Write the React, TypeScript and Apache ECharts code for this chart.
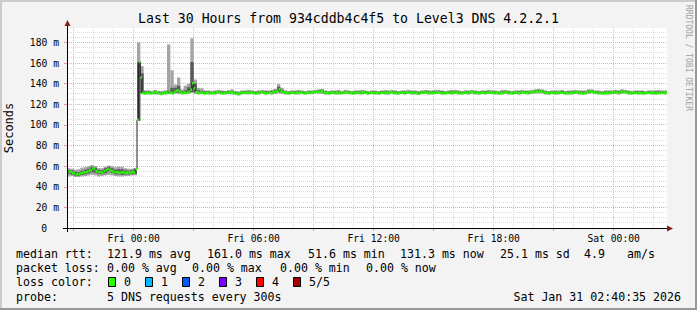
import React, { useEffect, useRef } from 'react';
import * as echarts from 'echarts';

const TITLE = 'Last 30 Hours from 934cddb4c4f5 to Level3 DNS 4.2.2.1';
const Y_NAME = 'Seconds';
const WATERMARK = 'RRDTOOL / TOBI OETIKER';
const SPAN_MIN = 1800; // Thu 20:40 -> Sat 02:40, minutes
const MEDIAN_STEP = 5;
const SMOKE_STEP = 10;
const Y_MAX = 194;

// median rtt (ms), one value per 5 minutes, starting Thu 20:40
const MEDIAN = [
  55, 54, 54.5, 53.5, 53, 51.6, 52.5, 52, 53, 53.5, 54, 54,
  55, 55.5, 56, 58, 57, 55, 54.5, 54, 54, 53.5, 55, 56,
  57.5, 56.5, 55.5, 55, 54, 54, 54, 53.5, 53.5, 54, 54, 53.5,
  53.5, 54, 53.5, 54, 54, 57, 105, 161, 146, 131, 130.5, 131,
  131.5, 131, 130.5, 131, 131.5, 132, 131, 130.5, 130, 130.5, 131, 131.5,
  131, 131.5, 131, 130.5, 132, 133, 133.5, 132.5, 131.5, 131, 131.5, 131,
  131.5, 132, 134, 140.5, 135.5, 132, 131.5, 131, 131.5, 131, 130.5, 131,
  131.5, 131, 130.5, 131, 131, 131.5, 132, 131.5, 131, 130.5, 131, 131.5,
  131, 131.5, 132, 131.5, 131, 130.5, 130, 130.5, 131, 131.5, 131, 131,
  131.5, 132, 131.5, 131, 131, 130.5, 131, 131.5, 132, 131.5, 131, 130.5,
  131, 131.5, 131, 131.5, 132, 132.5, 133, 134.5, 133, 132, 131.5, 131,
  131, 130.5, 131, 131.5, 131, 131, 131.5, 132, 131.5, 131, 130.5, 131,
  131.5, 131, 131, 131.5, 132, 132, 132.5, 132, 133, 132.5, 131.5, 131,
  131, 130.5, 131, 131.5, 131, 131, 131.5, 131, 130.5, 131, 131.5, 132,
  131.5, 131, 131, 130.5, 131, 131.5, 131, 131, 131.5, 132, 131.5, 131,
  130.5, 131, 131.5, 131, 131, 131.5, 131, 130.5, 131, 131, 131.5, 131,
  131, 131.5, 132, 131.5, 131, 131, 130.5, 131, 131.5, 131, 131, 131.5,
  132, 131.5, 131, 131, 131.5, 131, 130.5, 130.5, 131, 131.5, 132, 131.5,
  131, 131, 131.5, 131, 131, 131.5, 132, 131.5, 131, 130.5, 131, 131,
  131.5, 131, 131, 131.5, 132, 131.5, 131, 131, 130.5, 131, 131.5, 131,
  131, 131.5, 132, 132, 131.5, 131, 131, 130.5, 131, 131.5, 131, 131,
  131.5, 132, 131.5, 131, 131, 131.5, 131, 130.5, 131, 131, 131.5, 132,
  131.5, 131, 131, 130.5, 131, 131.5, 131, 131, 131.5, 132, 131.5, 131,
  131, 131.5, 132, 132, 132.5, 132, 133, 132.5, 133, 132, 131.5, 131,
  131, 130.5, 131, 131.5, 131, 131, 131.5, 132, 131.5, 131, 131, 130.5,
  131, 131.5, 131, 131, 131.5, 132, 131.5, 131, 131, 130.5, 131, 131.5,
  132, 132.5, 132.5, 132, 131.5, 131, 131, 131.5, 131, 130.5, 131, 131,
  131.5, 131, 131, 131.5, 132, 131.5, 131, 131, 132, 132.5, 132, 131.5,
  131, 131, 130.5, 131, 131.5, 131, 131, 131.5, 131, 130.5, 131, 131,
  131.5, 131, 131, 131.5, 131, 130.5, 131, 131.5, 131, 131, 131.5, 131.3,
];

// smoke: sorted ping values per 10 minutes (p1 = lowest ... p5 = highest)
const P1 = [
  50, 50.5, 49.5, 49.5, 50, 50.5,
  51, 51.5, 51, 50, 50.5, 51,
  51.5, 51, 50.5, 50, 50, 50.5,
  50.5, 51, 51, 104, 130, 129.5,
  129.5, 130, 129.5, 129.5, 130, 129.5,
  130, 130, 130.5, 130, 129.5, 130,
  130, 131, 130, 129.5, 130, 129.5,
  129.5, 130, 129.5, 130, 129.5, 129.5,
  130, 129.5, 129, 128.5, 129.5, 130,
  129.5, 130, 129.5, 129.5, 130, 129.5,
  130, 129.5, 130, 130.5, 130, 129.5,
  129.5, 130, 129.5, 129.5, 130, 129.5,
  130, 130, 130.5, 130.5, 130, 129.5,
  129.5, 130, 129.5, 129.5, 130, 130,
  130, 129.5, 129.5, 130, 129.5, 130,
  129.5, 130, 129.5, 129.5, 130, 129.5,
  129.5, 130, 129.5, 129.5, 130, 129.5,
  130, 129.5, 129.5, 129, 130, 130,
  129.5, 129.5, 130, 130, 129.5, 129.5,
  130, 129.5, 130, 129.5, 129.5, 130,
  129.5, 130, 129.5, 129.5, 130, 129.5,
  130, 130, 129.5, 129.5, 129.5, 130,
  129.5, 129.5, 130, 129.5, 130, 130,
  129.5, 130, 130.5, 130.5, 130.5, 129.5,
  129.5, 130, 129.5, 129.5, 130, 129.5,
  129.5, 129.5, 130, 129.5, 129.5, 129.5,
  130, 130.5, 130, 129.5, 129.5, 129.5,
  129.5, 130, 130, 129.5, 130, 130.5,
  129.5, 129.5, 130, 129.5, 129.5, 129.5,
  130, 129.5, 129.5, 129.5, 130, 129.5,
];
const P2 = [
  52.5, 52, 50.5, 50.5, 51.5, 52,
  53, 54, 53.5, 52.5, 52, 53,
  55, 53.5, 52, 52, 51.5, 52,
  52, 52, 52.5, 104, 131, 130.5,
  130.5, 130, 130.5, 130, 129.5, 130.5,
  130.5, 130, 131, 131.5, 130.5, 130.5,
  131, 132, 131.5, 130.5, 130.5, 130,
  130.5, 130, 130.5, 131, 130, 130.5,
  130.5, 131, 130, 129.5, 130.5, 130.5,
  131, 130.5, 130, 130.5, 131, 130,
  130.5, 130.5, 131.5, 132, 131.5, 130.5,
  130, 130.5, 130.5, 131, 130.5, 130,
  130.5, 130.5, 131, 131.5, 132, 130.5,
  130, 130.5, 130.5, 130.5, 130, 131,
  130.5, 130, 130.5, 130.5, 130.5, 130.5,
  130, 130.5, 130.5, 130, 130.5, 130.5,
  130.5, 131, 130.5, 130, 130.5, 130.5,
  131, 130.5, 130.5, 130, 130.5, 131,
  130.5, 130.5, 130.5, 131, 130.5, 130,
  130.5, 130.5, 131, 130.5, 130, 130.5,
  130.5, 131, 130.5, 130, 130.5, 130.5,
  131, 130.5, 130.5, 130, 130.5, 131,
  130.5, 130, 130.5, 130.5, 131, 130.5,
  130.5, 131, 131.5, 132, 131.5, 130.5,
  130, 130.5, 130.5, 130.5, 131, 130,
  130.5, 130.5, 131, 130.5, 130.5, 130.5,
  131.5, 131.5, 130.5, 130.5, 130, 130.5,
  130.5, 130.5, 131, 130.5, 131.5, 131,
  130.5, 130, 130.5, 130.5, 130.5, 130,
  130.5, 130.5, 130.5, 130.5, 130.5, 130.5,
];
const P4 = [
  56, 56, 54.5, 54, 55.5, 56.5,
  57.5, 59.5, 58.5, 56.5, 56, 58,
  59.5, 58, 56.5, 57, 57, 56,
  55.5, 56, 57.5, 161, 150, 132.5,
  132.5, 132, 133, 132, 131.5, 132.5,
  133, 136, 136, 138, 133, 133.5,
  136.5, 161, 140, 133.5, 133, 132.5,
  132.5, 132, 132.5, 133, 132.5, 132.5,
  133, 133, 132, 131.5, 132.5, 132.5,
  133, 132.5, 132, 132.5, 133, 132.5,
  132.5, 133, 134, 137, 134, 132.5,
  132, 132.5, 132.5, 133, 132.5, 132,
  132.5, 132.5, 133, 133.5, 134, 132.5,
  132, 132.5, 132.5, 132.5, 132, 133,
  132.5, 132, 132.5, 132.5, 133, 132.5,
  132, 132.5, 132.5, 132, 132.5, 132.5,
  132.5, 133, 132.5, 132, 132.5, 132.5,
  133, 132.5, 132.5, 132, 132.5, 133,
  132.5, 132.5, 132.5, 133, 132.5, 132,
  132.5, 133, 133, 132.5, 132, 132.5,
  132.5, 133, 132.5, 132, 132.5, 132.5,
  133, 132.5, 132.5, 132, 132.5, 133,
  132.5, 132, 132.5, 132.5, 133, 132.5,
  132.5, 133, 133.5, 134, 133.5, 132.5,
  132, 132.5, 132.5, 132.5, 133, 132,
  132.5, 132.5, 133, 132.5, 132.5, 132.5,
  133.5, 133.5, 132.5, 132.5, 132, 132.5,
  132.5, 132.5, 133, 132.5, 133.5, 133,
  132.5, 132, 132.5, 132.5, 132.5, 132,
  132.5, 132.5, 132.5, 132.5, 132.5, 132.5,
];
const P5 = [
  58, 57.5, 56.5, 57, 58.5, 59,
  60, 61, 60, 58, 58, 59.5,
  60.5, 60, 59, 59.5, 59.5, 58,
  57.5, 57.5, 58, 180, 157, 133.5,
  133.5, 133, 134, 133, 133, 133.5,
  178, 153, 139, 146, 134.5, 138,
  140, 184, 144, 136, 135.5, 133.5,
  133.5, 133, 133.5, 134, 133.5, 133,
  133.5, 134.5, 133, 132.5, 133.5, 133.5,
  134, 133.5, 133, 133.5, 134, 133.5,
  133.5, 134, 135, 139.5, 136, 133.5,
  133, 133.5, 133.5, 134, 133.5, 133,
  133.5, 133.5, 134, 134.5, 135, 133.5,
  133, 133.5, 133.5, 134, 133, 134,
  133.5, 133, 133.5, 133.5, 134, 133.5,
  133, 133.5, 133.5, 133, 133.5, 134,
  133.5, 134, 133.5, 133, 133.5, 133.5,
  134, 133.5, 133.5, 133, 133.5, 134,
  133.5, 133.5, 134, 134, 133.5, 133,
  133.5, 134, 134, 133.5, 133, 133.5,
  133.5, 134, 133.5, 133, 133.5, 133.5,
  134, 133.5, 133.5, 133, 134, 134,
  133.5, 133, 133.5, 133.5, 134, 133.5,
  133.5, 134, 134.5, 135, 134.5, 133.5,
  133, 133.5, 133.5, 133.5, 134, 133,
  133.5, 133.5, 134, 133.5, 133.5, 133.5,
  134.5, 134.5, 133.5, 133.5, 133, 133.5,
  133.5, 133.5, 134, 133.5, 134.5, 134,
  133.5, 133, 133.5, 133.5, 133.5, 133,
  133.5, 133.5, 133.5, 134, 133.5, 133.5,
];

// axis ticks (x in minutes since Thu 20:40)
const X_TICKS = [200, 560, 920, 1280, 1640];
const X_TICK_LABELS = ['Fri 00:00', 'Fri 06:00', 'Fri 12:00', 'Fri 18:00', 'Sat 00:00'];
const Y_TICKS = [0, 20, 40, 60, 80, 100, 120, 140, 160, 180];
const Y_TICK_LABELS = ['0', '20 m', '40 m', '60 m', '80 m', '100 m', '120 m', '140 m', '160 m', '180 m'];

// legend texts
const RTT_LABEL = 'median rtt:';
const RTT_STATS = ['121.9 ms avg', '161.0 ms max', '51.6 ms min', '131.3 ms now', '25.1 ms sd', '4.9', 'am/s'];
const LOSS_LABEL = 'packet loss:';
const LOSS_STATS = ['0.00 % avg', '0.00 % max', '0.00 % min', '0.00 % now'];
const COLOR_LABEL = 'loss color:';
const LOSS_LEVELS = ['0', '1', '2', '3', '4', '5/5'];
const LOSS_COLORS = ['#26ff00', '#00b8ff', '#0059ff', '#7e00ff', '#ff0000', '#a00000'];
const PROBE_LABEL = 'probe:';
const PROBE_TEXT = '5 DNS requests every 300s';
const STAMP = 'Sat Jan 31 02:40:35 2026';

const FONT = '"DejaVu Sans Mono", monospace';
const MINOR = '#dcdcdc';
const MAJOR = '#f2a8a8';

export default function App() {
  const ref = useRef<HTMLDivElement>(null);

  useEffect(() => {
    document.body.style.margin = '0';
    const chart = echarts.init(ref.current!, undefined, { renderer: 'svg' });

    const vLines: number[][] = [];
    for (let m = 20; m < SPAN_MIN; m += 60) vLines.push([m, (m - 20) % 180 === 0 ? 1 : 0]);
    vLines.sort((a, b) => a[1] - b[1]);
    const hLines: number[][] = [];
    for (let v = 5; v < Y_MAX; v += 5) hLines.push([v, v % 20 === 0 ? 1 : 0]);
    hLines.sort((a, b) => a[1] - b[1]);
    const majorTicks: number[] = [];
    for (let m = 20; m < SPAN_MIN; m += 180) majorTicks.push(m);

    const smoke = (lo: number[], hi: number[]) => lo.map((l, k) => [k * SMOKE_STEP, l, hi[k]]);
    const smokeRender = (color: string) => (params: any, api: any) => {
      const t = api.value(0);
      const a = api.coord([t, api.value(2)]);
      const b = api.coord([t + SMOKE_STEP, api.value(1)]);
      return {
        type: 'rect', silent: true,
        shape: { x: a[0], y: a[1], width: b[0] - a[0], height: Math.max(b[1] - a[1], 0.8) },
        style: { fill: color },
      };
    };

    const legendText = (text: string, x: number, y: number, align = 'left') => ({
      type: 'text', x, y, silent: true,
      style: { text, font: `11.6px ${FONT}`, fill: '#000', textAlign: align, align, textVerticalAlign: 'middle', verticalAlign: 'middle' },
    });

    const rttX = [107, 207, 308, 400, 500, 584, 627];
    const lossX = [107, 192, 280, 366];
    const boxX = [108, 145, 182, 219, 256, 293];

    const graphics: any[] = [
      { type: 'rect', shape: { x: 0, y: 0, width: 697, height: 2 }, style: { fill: '#cbcbcb' }, silent: true },
      { type: 'rect', shape: { x: 0, y: 0, width: 2, height: 310 }, style: { fill: '#cbcbcb' }, silent: true },
      { type: 'rect', shape: { x: 695, y: 0, width: 2, height: 310 }, style: { fill: '#999999' }, silent: true },
      { type: 'rect', shape: { x: 0, y: 308, width: 697, height: 2 }, style: { fill: '#999999' }, silent: true },
      { type: 'line', shape: { x1: 67.5, y1: 23, x2: 67.5, y2: 232 }, style: { stroke: '#000', lineWidth: 1 }, silent: true, z: 10 },
      { type: 'line', shape: { x1: 63, y1: 228.5, x2: 668, y2: 228.5 }, style: { stroke: '#000', lineWidth: 1 }, silent: true, z: 10 },
      { type: 'polygon', shape: { points: [[64.5, 26], [70.5, 26], [67.5, 20]] }, style: { fill: '#7f1f1f' }, silent: true, z: 10 },
      { type: 'polygon', shape: { points: [[667, 225.5], [667, 231.5], [673, 228.5]] }, style: { fill: '#7f1f1f' }, silent: true, z: 10 },
      {
        type: 'text', x: 688, y: 58, rotation: -Math.PI / 2, silent: true,
        style: { text: WATERMARK, font: `8px ${FONT}`, fill: '#a0a0a0', textAlign: 'center', align: 'center', textVerticalAlign: 'middle', verticalAlign: 'middle' },
      },
      legendText(RTT_LABEL, 16, 254),
      ...RTT_STATS.map((s, i) => legendText(s, rttX[i], 254)),
      legendText(LOSS_LABEL, 16, 268),
      ...LOSS_STATS.map((s, i) => legendText(s, lossX[i], 268)),
      legendText(COLOR_LABEL, 16, 282),
      ...LOSS_LEVELS.map((s, i) => legendText(s, boxX[i] + 16, 282)),
      ...LOSS_COLORS.map((c, i) => ({
        type: 'rect', silent: true,
        shape: { x: boxX[i] + 0.5, y: 277.5, width: 7, height: 9 },
        style: { fill: c, stroke: '#000', lineWidth: 1 },
      })),
      legendText(PROBE_LABEL, 16, 297),
      legendText(PROBE_TEXT, 107, 297),
      legendText(STAMP, 681, 297, 'right'),
    ];

    chart.setOption({
      animation: false,
      backgroundColor: '#f3f3f3',
      textStyle: { fontFamily: FONT },
      title: {
        text: TITLE, left: 'center', top: 11, padding: 0,
        textStyle: { fontFamily: FONT, fontSize: 13.2, fontWeight: 'normal', color: '#000', lineHeight: 14 },
      },
      grid: { left: 67, right: 30, top: 28, bottom: 82, show: true, backgroundColor: '#ffffff', borderWidth: 0, containLabel: false, outerBoundsMode: 'none' },
      xAxis: {
        type: 'value', min: 0, max: SPAN_MIN,
        axisLine: { show: false, onZero: false },
        axisTick: { show: true, customValues: majorTicks, length: 3, lineStyle: { color: '#e89a9a' } },
        axisLabel: {
          customValues: X_TICKS, margin: 5, fontFamily: FONT, fontSize: 9.7, color: '#000',
          formatter: (v: number) => X_TICK_LABELS[X_TICKS.indexOf(v)] ?? '',
        },
        splitLine: { show: false },
      },
      yAxis: {
        type: 'value', min: 0, max: Y_MAX,
        name: Y_NAME, nameLocation: 'middle', nameGap: 52,
        nameTextStyle: { fontFamily: FONT, fontSize: 12, color: '#000' },
        axisLine: { show: false, onZero: false },
        axisTick: { show: true, customValues: Y_TICKS, length: 3, lineStyle: { color: '#e89a9a' } },
        axisLabel: {
          customValues: Y_TICKS, margin: 8, fontFamily: FONT, fontSize: 9.7, color: '#000',
          formatter: (v: number) => {
            const s = Y_TICK_LABELS[Y_TICKS.indexOf(v)] ?? '';
            return v === 0 ? `{z|${s}}` : s;
          },
          rich: { z: { padding: [0, 12, 0, 0], fontFamily: FONT, fontSize: 9.7, color: '#000' } },
        },
        splitLine: { show: false },
      },
      graphic: graphics,
      series: [
        {
          type: 'custom', silent: true, z: 1, data: vLines, encode: { x: 0, y: 1 },
          renderItem: (params: any, api: any) => {
            const v = api.value(0);
            const top = api.coord([v, Y_MAX]);
            const bot = api.coord([v, 0]);
            const x = Math.floor(top[0]) + 0.5;
            return { type: 'line', silent: true, shape: { x1: x, y1: top[1], x2: x, y2: bot[1] }, style: { stroke: api.value(1) ? MAJOR : MINOR, lineWidth: 1, lineDash: [1, 1] } };
          },
        },
        {
          type: 'custom', silent: true, z: 1, data: hLines, encode: { x: 0, y: 1 },
          renderItem: (params: any, api: any) => {
            const v = api.value(0);
            const l = api.coord([0, v]);
            const r = api.coord([SPAN_MIN, v]);
            const y = Math.floor(l[1]) + 0.5;
            return { type: 'line', silent: true, shape: { x1: l[0], y1: y, x2: r[0], y2: y }, style: { stroke: api.value(1) ? MAJOR : MINOR, lineWidth: 1, lineDash: [1, 1] } };
          },
        },
        {
          type: 'custom', silent: true, z: 2, data: smoke(P1, P5), encode: { x: 0, y: [1, 2] },
          renderItem: smokeRender('#a4a4a4'),
        },
        {
          type: 'custom', silent: true, z: 3, data: smoke(P2, P4), encode: { x: 0, y: [1, 2] },
          renderItem: smokeRender('#5a5a5a'),
        },
        {
          type: 'line', silent: true, z: 4, step: 'end', symbol: 'none',
          data: MEDIAN.map((m, j) => [j * MEDIAN_STEP, m]),
          lineStyle: { color: '#202020', width: 1 },
        },
        {
          type: 'custom', silent: true, z: 6, data: MEDIAN.map((m, j) => [j * MEDIAN_STEP, m]), encode: { x: 0, y: 1 },
          renderItem: (params: any, api: any) => {
            const t = api.value(0);
            const a = api.coord([t, api.value(1)]);
            const b = api.coord([t + MEDIAN_STEP, api.value(1)]);
            return { type: 'rect', silent: true, shape: { x: a[0], y: a[1] - 1.25, width: b[0] - a[0], height: 2.5 }, style: { fill: LOSS_COLORS[0] } };
          },
        },
      ],
    });

    return () => chart.dispose();
  }, []);

  return <div ref={ref} style={{ width: 697, height: 310 }} />;
}
